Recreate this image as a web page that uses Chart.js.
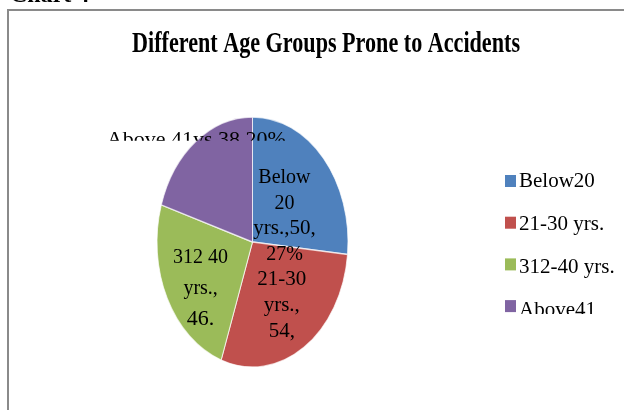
<!DOCTYPE html>
<html><head><meta charset="utf-8">
<script src="https://cdn.jsdelivr.net/npm/chart.js@4.4.1/dist/chart.umd.min.js"></script>
<style>html,body{margin:0;padding:0;background:#fff;overflow:hidden}#wrap{position:relative;width:624px;height:410px}</style>
</head><body><div id="wrap"><canvas id="c" width="624" height="410"></canvas></div>
<script>
const categories = ['Below20', '21-30 yrs.', '312-40 yrs.', 'Above41'];
const accidentCounts = [50, 54, 46, 38];
const sliceColors = ['#4F81BD', '#C0504D', '#9BBB59', '#8064A2'];
const chartTitle = 'Different Age Groups Prone to Accidents';
const figureCaption = 'Chart 4';

const total = accidentCounts.reduce((a, b) => a + b, 0);
const pct = accidentCounts.map(v => Math.round(v / total * 100));
const sliceLabelLines = [
  ['Below', '20', `yrs.,${accidentCounts[0]},`, `${pct[0]}%`],
  ['21-30', 'yrs.,', `${accidentCounts[1]},`],
  ['312 40', 'yrs.,', `${accidentCounts[2]}.`],
  [`Above 41ys ${accidentCounts[3]} ${pct[3]}%`]
];

const SERIF = "'Liberation Serif', 'Times New Roman', serif";
const Y_STRETCH = 125 / 95.5;
const labelStyle = [
  {dx: -7, dy: -13, gap: 25.7, sizes: [20, 20, 21, 20]},
  {dx: 1, dy: -15, gap: 26, sizes: [21, 21, 21]},
  {dx: -5, dy: -10, gap: 31, sizes: [20, 20, 22]},
  {dx: -25, dy: -41, gap: 0, sizes: [22], clip: 5}
];

const framePlugin = {
  id: 'frame',
  beforeDraw(chart) {
    const ctx = chart.ctx;
    ctx.save();
    ctx.fillStyle = '#fff';
    ctx.fillRect(0, 0, chart.width, chart.height);
    ctx.fillStyle = '#8a8a8a';
    ctx.fillRect(7, 9, 2, chart.height);
    ctx.fillRect(7, 9, chart.width, 2);
    ctx.fillStyle = '#000';
    ctx.font = 'bold 24px ' + SERIF;
    ctx.textBaseline = 'alphabetic';
    ctx.textAlign = 'left';
    ctx.fillText(figureCaption, 10, 2);
    // title
    ctx.font = 'bold 29px ' + SERIF;
    const w = ctx.measureText(chartTitle).width;
    ctx.translate(326, 52);
    ctx.scale(388 / w, 1);
    ctx.textAlign = 'center';
    ctx.fillText(chartTitle, 0, 0);
    ctx.restore();
  }
};

const ellipsePlugin = {
  id: 'ellipse',
  beforeDatasetsDraw(chart) {
    const a = chart.getDatasetMeta(0).data[0];
    const ctx = chart.ctx;
    ctx.save();
    ctx.translate(a.x, a.y);
    ctx.scale(1, Y_STRETCH);
    ctx.translate(-a.x, -a.y);
  },
  afterDatasetsDraw(chart) {
    chart.ctx.restore();
  }
};

const labelPlugin = {
  id: 'sliceLabels',
  afterDraw(chart) {
    const ctx = chart.ctx;
    const arcs = chart.getDatasetMeta(0).data;
    arcs.forEach((arc, i) => {
      const p = arc.getProps(['x', 'y', 'startAngle', 'endAngle', 'outerRadius'], true);
      const mid = (p.startAngle + p.endAngle) / 2;
      const ax = p.x + Math.cos(mid) * p.outerRadius * 0.55;
      const ay = p.y + Math.sin(mid) * p.outerRadius * 0.55 * Y_STRETCH;
      const st = labelStyle[i];
      const x = ax + st.dx;
      let y = ay + st.dy;
      ctx.save();
      if (st.clip) {
        ctx.beginPath();
        ctx.rect(0, 0, chart.width, y - st.clip);
        ctx.clip();
      }
      ctx.fillStyle = '#000';
      ctx.textAlign = 'center';
      ctx.textBaseline = 'alphabetic';
      sliceLabelLines[i].forEach((line, j) => {
        ctx.font = st.sizes[j] + 'px ' + SERIF;
        ctx.fillText(line, x, y + j * st.gap);
      });
      ctx.restore();
    });
  }
};

const legendPlugin = {
  id: 'sideLegend',
  afterDraw(chart) {
    const ctx = chart.ctx;
    const ds = chart.data.datasets[0];
    ctx.save();
    ctx.beginPath();
    ctx.rect(0, 0, chart.width, 314);
    ctx.clip();
    ctx.font = '21px ' + SERIF;
    ctx.textAlign = 'left';
    ctx.textBaseline = 'alphabetic';
    chart.data.labels.forEach((lab, i) => {
      ctx.fillStyle = ds.backgroundColor[i];
      ctx.fillRect(505, 175 + 41.7 * i, 11, 12);
      ctx.fillStyle = '#000';
      ctx.fillText(lab, 519, 187 + 42.9 * i);
    });
    ctx.restore();
  }
};

new Chart(document.getElementById('c'), {
  type: 'pie',
  data: {
    labels: categories,
    datasets: [{
      data: accidentCounts,
      backgroundColor: sliceColors,
      borderColor: 'rgba(255,255,255,0.7)',
      borderWidth: 1,
      clip: false
    }]
  },
  options: {
    responsive: false,
    animation: false,
    events: [],
    layout: {padding: {left: 156, right: 275, top: 146, bottom: 72}},
    plugins: {legend: {display: false}, tooltip: {enabled: false}, title: {display: false}}
  },
  plugins: [framePlugin, ellipsePlugin, labelPlugin, legendPlugin]
});
</script>
</body></html>
